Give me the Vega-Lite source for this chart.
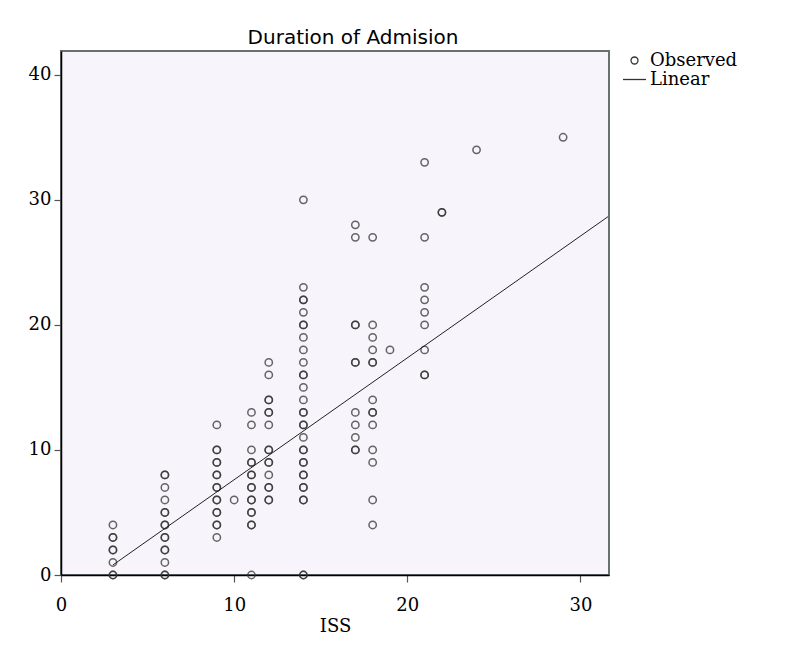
{
  "$schema": "https://vega.github.io/schema/vega-lite/v6.json",
  "autosize": "none",
  "width": 548,
  "height": 524,
  "padding": {"left": 61, "top": 51, "right": 203, "bottom": 87},
  "background": "white",
  "title": {"text": "Duration of Admision", "font": "DejaVu Sans", "fontSize": 20, "fontWeight": "normal", "color": "#000", "anchor": "middle", "dx": 18, "offset": -13, "baseline": "alphabetic"},
  "config": {
    "view": {"stroke": "#69716f", "strokeWidth": 2, "fill": "#f7f5fb"},
    "axis": {"grid": false, "labelFlush": false, "labelFont": "DejaVu Serif", "labelFontSize": 18, "labelColor": "#000", "titleFont": "DejaVu Serif", "titleFontSize": 18, "titleFontWeight": "normal", "titleColor": "#000", "domainColor": "#000", "domainWidth": 1.5, "tickColor": "#555", "tickWidth": 1.2, "tickSize": 7}
  },
  "datasets": {
    "observed": [
      {"ISS": 3, "Duration": 0}, {"ISS": 3, "Duration": 0}, {"ISS": 3, "Duration": 1}, {"ISS": 3, "Duration": 2}, {"ISS": 3, "Duration": 2}, {"ISS": 3, "Duration": 3}, {"ISS": 3, "Duration": 3}, {"ISS": 3, "Duration": 4},
      {"ISS": 6, "Duration": 0}, {"ISS": 6, "Duration": 0}, {"ISS": 6, "Duration": 1}, {"ISS": 6, "Duration": 2}, {"ISS": 6, "Duration": 2}, {"ISS": 6, "Duration": 3}, {"ISS": 6, "Duration": 3}, {"ISS": 6, "Duration": 4}, {"ISS": 6, "Duration": 4}, {"ISS": 6, "Duration": 5}, {"ISS": 6, "Duration": 5}, {"ISS": 6, "Duration": 6}, {"ISS": 6, "Duration": 7}, {"ISS": 6, "Duration": 8}, {"ISS": 6, "Duration": 8},
      {"ISS": 9, "Duration": 3}, {"ISS": 9, "Duration": 4}, {"ISS": 9, "Duration": 4}, {"ISS": 9, "Duration": 5}, {"ISS": 9, "Duration": 5}, {"ISS": 9, "Duration": 6}, {"ISS": 9, "Duration": 6}, {"ISS": 9, "Duration": 7}, {"ISS": 9, "Duration": 7}, {"ISS": 9, "Duration": 8}, {"ISS": 9, "Duration": 8}, {"ISS": 9, "Duration": 9}, {"ISS": 9, "Duration": 9}, {"ISS": 9, "Duration": 10}, {"ISS": 9, "Duration": 10}, {"ISS": 9, "Duration": 12},
      {"ISS": 10, "Duration": 6},
      {"ISS": 11, "Duration": 0}, {"ISS": 11, "Duration": 4}, {"ISS": 11, "Duration": 4}, {"ISS": 11, "Duration": 5}, {"ISS": 11, "Duration": 5}, {"ISS": 11, "Duration": 6}, {"ISS": 11, "Duration": 6}, {"ISS": 11, "Duration": 7}, {"ISS": 11, "Duration": 7}, {"ISS": 11, "Duration": 8}, {"ISS": 11, "Duration": 8}, {"ISS": 11, "Duration": 9}, {"ISS": 11, "Duration": 9}, {"ISS": 11, "Duration": 10}, {"ISS": 11, "Duration": 12}, {"ISS": 11, "Duration": 13},
      {"ISS": 12, "Duration": 6}, {"ISS": 12, "Duration": 6}, {"ISS": 12, "Duration": 7}, {"ISS": 12, "Duration": 7}, {"ISS": 12, "Duration": 8}, {"ISS": 12, "Duration": 9}, {"ISS": 12, "Duration": 9}, {"ISS": 12, "Duration": 10}, {"ISS": 12, "Duration": 10}, {"ISS": 12, "Duration": 12}, {"ISS": 12, "Duration": 13}, {"ISS": 12, "Duration": 13}, {"ISS": 12, "Duration": 14}, {"ISS": 12, "Duration": 14}, {"ISS": 12, "Duration": 16}, {"ISS": 12, "Duration": 17},
      {"ISS": 14, "Duration": 0}, {"ISS": 14, "Duration": 0}, {"ISS": 14, "Duration": 6}, {"ISS": 14, "Duration": 6}, {"ISS": 14, "Duration": 7}, {"ISS": 14, "Duration": 7}, {"ISS": 14, "Duration": 8}, {"ISS": 14, "Duration": 8}, {"ISS": 14, "Duration": 9}, {"ISS": 14, "Duration": 9}, {"ISS": 14, "Duration": 10}, {"ISS": 14, "Duration": 10}, {"ISS": 14, "Duration": 11}, {"ISS": 14, "Duration": 12}, {"ISS": 14, "Duration": 12}, {"ISS": 14, "Duration": 13}, {"ISS": 14, "Duration": 13}, {"ISS": 14, "Duration": 14}, {"ISS": 14, "Duration": 15}, {"ISS": 14, "Duration": 16}, {"ISS": 14, "Duration": 16}, {"ISS": 14, "Duration": 17}, {"ISS": 14, "Duration": 18}, {"ISS": 14, "Duration": 19}, {"ISS": 14, "Duration": 20}, {"ISS": 14, "Duration": 20}, {"ISS": 14, "Duration": 21}, {"ISS": 14, "Duration": 22}, {"ISS": 14, "Duration": 22}, {"ISS": 14, "Duration": 23}, {"ISS": 14, "Duration": 30},
      {"ISS": 17, "Duration": 10}, {"ISS": 17, "Duration": 10}, {"ISS": 17, "Duration": 11}, {"ISS": 17, "Duration": 12}, {"ISS": 17, "Duration": 13}, {"ISS": 17, "Duration": 17}, {"ISS": 17, "Duration": 17}, {"ISS": 17, "Duration": 20}, {"ISS": 17, "Duration": 20}, {"ISS": 17, "Duration": 27}, {"ISS": 17, "Duration": 28},
      {"ISS": 18, "Duration": 4}, {"ISS": 18, "Duration": 6}, {"ISS": 18, "Duration": 9}, {"ISS": 18, "Duration": 10}, {"ISS": 18, "Duration": 12}, {"ISS": 18, "Duration": 13}, {"ISS": 18, "Duration": 13}, {"ISS": 18, "Duration": 14}, {"ISS": 18, "Duration": 17}, {"ISS": 18, "Duration": 17}, {"ISS": 18, "Duration": 18}, {"ISS": 18, "Duration": 19}, {"ISS": 18, "Duration": 20}, {"ISS": 18, "Duration": 27},
      {"ISS": 19, "Duration": 18},
      {"ISS": 21, "Duration": 16}, {"ISS": 21, "Duration": 16}, {"ISS": 21, "Duration": 18}, {"ISS": 21, "Duration": 20}, {"ISS": 21, "Duration": 21}, {"ISS": 21, "Duration": 22}, {"ISS": 21, "Duration": 23}, {"ISS": 21, "Duration": 27}, {"ISS": 21, "Duration": 33},
      {"ISS": 22, "Duration": 29}, {"ISS": 22, "Duration": 29},
      {"ISS": 24, "Duration": 34},
      {"ISS": 29, "Duration": 35}
    ],
    "fit": [
      {"ISS": 3, "Duration": 0.8},
      {"ISS": 31.6, "Duration": 28.66}
    ]
  },
  "layer": [
    {
      "data": {"name": "observed"},
      "mark": {"type": "point", "filled": false, "size": 320, "color": "#333333", "strokeWidth": 1.5, "opacity": 0.75},
      "encoding": {
        "x": {"field": "ISS", "type": "quantitative", "scale": {"domain": [0, 31.65], "nice": false, "zero": false}, "axis": {"values": [0, 10, 20, 30], "title": "ISS", "labelPadding": 14, "titlePadding": 3}},
        "y": {"field": "Duration", "type": "quantitative", "scale": {"domain": [0, 41.9], "nice": false}, "axis": {"values": [0, 10, 20, 30, 40], "title": null, "labelPadding": 3}},
        "shape": {"datum": "Observed", "type": "nominal", "scale": {"domain": ["Observed", "Linear"], "range": ["M-0.41,0A0.41,0.41,0,1,1,0.41,0A0.41,0.41,0,1,1,-0.41,0Z", "M-1.35,0L1.35,0"]}, "legend": {"title": null, "orient": "none", "legendX": 564, "legendY": 0, "padding": 0, "rowPadding": 0, "labelFont": "DejaVu Serif", "labelFontSize": 18, "labelColor": "#000", "labelOffset": 6, "symbolSize": 289, "symbolStrokeColor": "#333", "symbolStrokeWidth": 1.3, "symbolFillColor": "transparent", "symbolOpacity": 1}}
      }
    },
    {
      "data": {"name": "fit"},
      "mark": {"type": "line", "color": "#222", "strokeWidth": 1, "clip": true},
      "encoding": {
        "x": {"field": "ISS", "type": "quantitative"},
        "y": {"field": "Duration", "type": "quantitative"}
      }
    }
  ]
}
